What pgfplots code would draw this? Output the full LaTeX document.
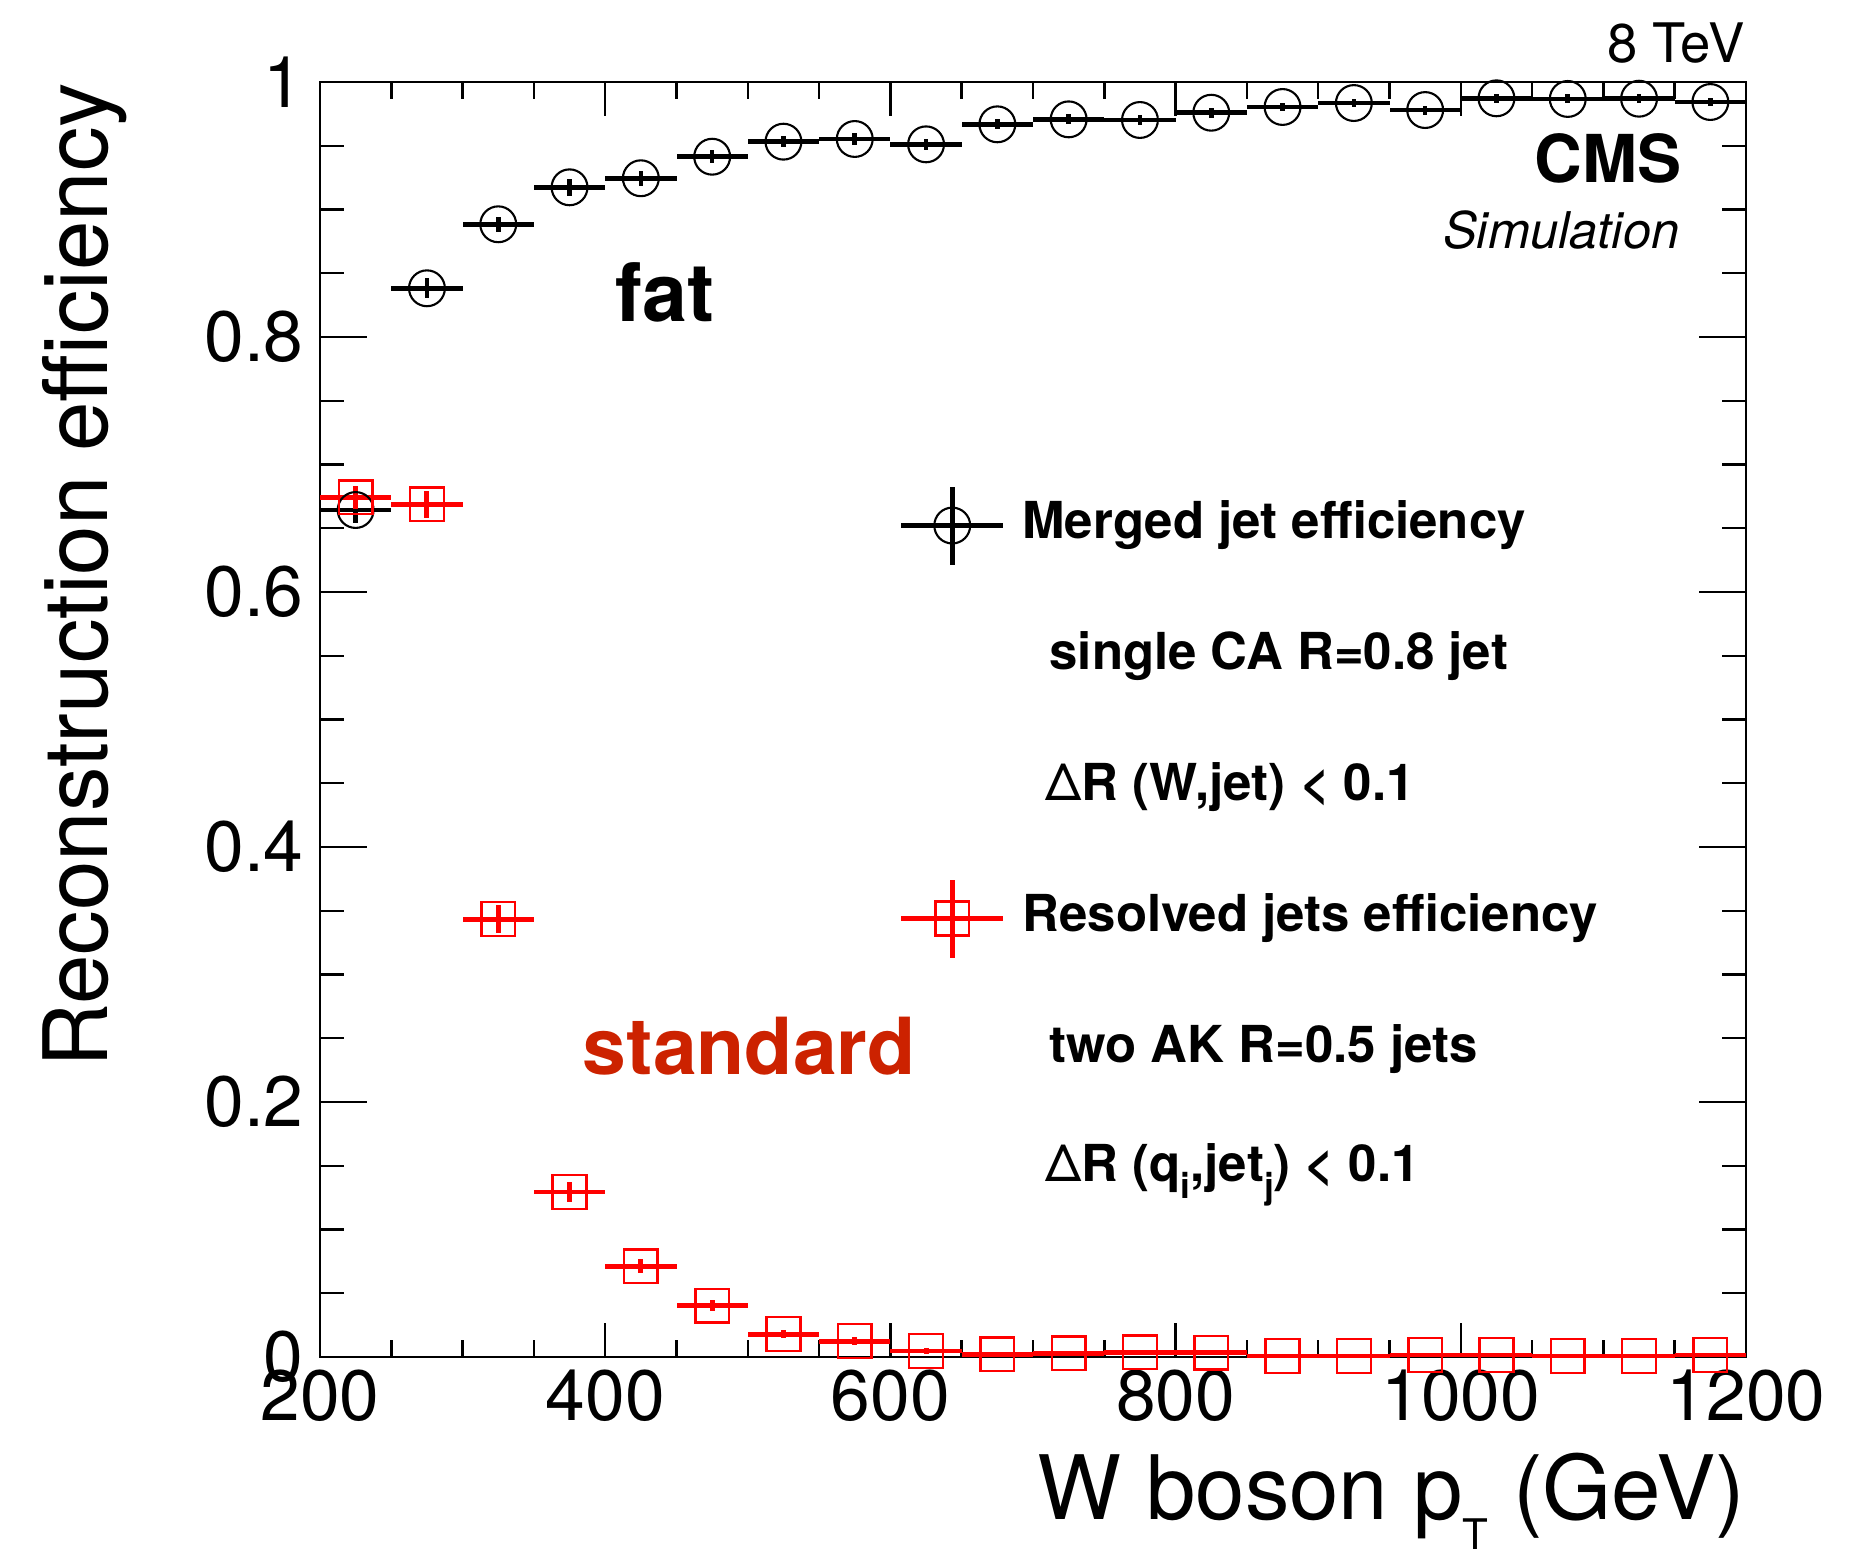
\documentclass[border=0pt]{standalone}
\usepackage{fontspec}
\setmainfont{TeX Gyre Heros}
\usepackage{pgfplots}
\usepackage{pgfplotstable}
\pgfplotsset{compat=1.18}
\definecolor{stdred}{RGB}{204,34,0}

% W boson pT bins (GeV): centre, value, half bin width, stat. error
\pgfplotstableread{
x     y       ex  ey
225   0.6643  25  0.0100
275   0.8382  25  0.0080
325   0.8884  25  0.0060
375   0.9174  25  0.0065
425   0.9245  25  0.0060
475   0.9414  25  0.0050
525   0.9532  25  0.0045
575   0.9553  25  0.0045
625   0.9511  25  0.0045
675   0.9668  25  0.0040
725   0.9707  25  0.0040
775   0.9702  25  0.0040
825   0.9759  25  0.0040
875   0.9804  25  0.0035
925   0.9835  25  0.0035
975   0.9780  25  0.0035
1025  0.9872  25  0.0035
1075  0.9867  25  0.0035
1125  0.9869  25  0.0035
1175  0.9843  25  0.0035
}\merged

\pgfplotstableread{
x     y       ex  ey
225   0.6743  25  0.0090
275   0.6688  25  0.0105
325   0.3435  25  0.0110
375   0.1294  25  0.0075
425   0.0711  25  0.0055
475   0.0403  25  0.0045
525   0.0180  25  0.0030
575   0.0125  25  0.0030
625   0.0047  25  0.0020
675   0.0021  25  0.0010
725   0.0029  25  0.0010
775   0.0037  25  0.0010
825   0.0034  25  0.0010
875   0.0008  25  0.0005
925   0.0008  25  0.0005
975   0.0016  25  0.0005
1025  0.0016  25  0.0005
1075  0.0008  25  0.0005
1125  0.0008  25  0.0005
1175  0.0016  25  0.0005
}\resolved

\pgfplotsset{
  cmsframe/.style={
    scale only axis, width=14.26cm, height=12.75cm,
    xmin=200, xmax=1200, ymin=0, ymax=1,
    axis line style={line width=0.7pt},
    tick style={black, line width=0.7pt},
    tick align=inside,
    /pgf/number format/assume math mode=true,
    /pgf/number format/1000 sep={},
    ticklabel style={font=\fontsize{20.3}{24}\selectfont},
    clip=false,
  },
}

\begin{document}
\begin{tikzpicture}
\useasboundingbox (-3.20,-1.93) rectangle (15.51,13.57);

% y ticks, y tick labels and y title
\begin{axis}[cmsframe,
  xtick=\empty,
  ytick={0,0.2,0.4,0.6,0.8,1},
  minor y tick num=3,
  major tick length=0.47cm, minor tick length=0.24cm,
  yticklabel style={xshift=-0.04cm},
  ylabel={Reconstruction efficiency},
  ylabel style={at={(rel axis cs:-0.1487,1)}, anchor=base east, inner sep=0pt,
    font=\fontsize{25.3}{30}\selectfont},
]
\end{axis}

% data, x ticks, x title, legend and annotations
\begin{axis}[cmsframe,
  ytick=\empty,
  xtick={200,400,600,800,1000,1200},
  minor x tick num=3,
  major tick length=0.34cm, minor tick length=0.17cm,
  xlabel={W boson p\raisebox{-0.34em}{\fontsize{12}{12}\selectfont T} (GeV)},
  xlabel style={at={(rel axis cs:1,-0.1271)}, anchor=base east, inner sep=0pt,
    font=\fontsize{25.3}{30}\selectfont},
  legend style={draw=none, fill=none, inner sep=0pt, outer sep=0pt,
    at={(rel axis cs:0.406,0.6937)}, anchor=north west,
    row sep=0pt,
    nodes={inner sep=0pt, outer sep=0pt, text height=0.655cm, text depth=0.655cm,
      font=\bfseries\fontsize{14.5}{17}\selectfont},
    /tikz/every odd column/.append style={column sep=0.17cm}},
  legend cell align=left,
]

\addplot[black, only marks, mark=o, mark size=5.1pt, forget plot,
  mark options={line width=0.6pt, fill=none},
  error bars/.cd, x dir=both, x explicit, y dir=both, y explicit,
  error mark=none, error bar style={line width=1.3pt, black}]
  table[x=x, y=y, x error=ex, y error=ey] {\merged};

\addplot[red, only marks, mark=square, mark size=4.8pt, forget plot,
  mark options={line width=0.7pt, fill=none},
  error bars/.cd, x dir=both, x explicit, y dir=both, y explicit,
  error mark=none, error bar style={line width=1.4pt, red}]
  table[x=x, y=y, x error=ex, y error=ey] {\resolved};

\addlegendimage{legend image code/.code={
  \draw[black, line width=1.3pt] (0cm,0.125cm) -- (1.02cm,0.125cm);
  \draw[black, line width=1.3pt] (0.51cm,-0.265cm) -- (0.51cm,0.515cm);
  \path[black, mark=o, mark size=5.1pt, mark options={line width=0.6pt, fill=none}]
    plot coordinates {(0.51cm,0.125cm)};}}
\addlegendentry{Merged jet efficiency}
\addlegendimage{empty legend}
\addlegendentry{\hspace*{0.27cm}single CA R=0.8 jet}
\addlegendimage{empty legend}
\addlegendentry{\hspace*{0.23cm}{\mdseries Δ}R (W,jet) < 0.1}
\addlegendimage{legend image code/.code={
  \draw[red, line width=1.3pt] (0cm,0.125cm) -- (1.02cm,0.125cm);
  \draw[red, line width=1.3pt] (0.51cm,-0.265cm) -- (0.51cm,0.515cm);
  \path[red, mark=square, mark size=4.8pt, mark options={line width=0.7pt, fill=none}]
    plot coordinates {(0.51cm,0.125cm)};}}
\addlegendentry{Resolved jets efficiency}
\addlegendimage{empty legend}
\addlegendentry{\hspace*{0.27cm}two AK R=0.5 jets}
\addlegendimage{empty legend}
\addlegendentry{\raisebox{0.12cm}{\hspace*{0.23cm}{\mdseries Δ}R (q\raisebox{-0.35em}{\fontsize{10}{10}\selectfont i},jet\raisebox{-0.35em}{\fontsize{10}{10}\selectfont j}) < 0.1}}

\node[anchor=base west, inner sep=0pt, font=\bfseries\fontsize{23}{27}\selectfont]
  at (axis cs:406.9,0.8118) {fat};
\node[anchor=base west, inner sep=0pt, text=stdred, font=\bfseries\fontsize{22.4}{26}\selectfont]
  at (axis cs:383.7,0.2214) {standard};
\node[anchor=base east, inner sep=0pt, font=\bfseries\fontsize{18.8}{22}\selectfont]
  at (axis cs:1155.1,0.9208) {CMS};
\node[anchor=base east, inner sep=0pt, font=\itshape\fontsize{14.4}{17}\selectfont]
  at (axis cs:1153.7,0.8698) {Simulation};
\node[anchor=base east, inner sep=0pt, font=\fontsize{15.5}{18}\selectfont]
  at (axis cs:1199.3,1.0149) {8 TeV};
\end{axis}
\end{tikzpicture}
\end{document}
